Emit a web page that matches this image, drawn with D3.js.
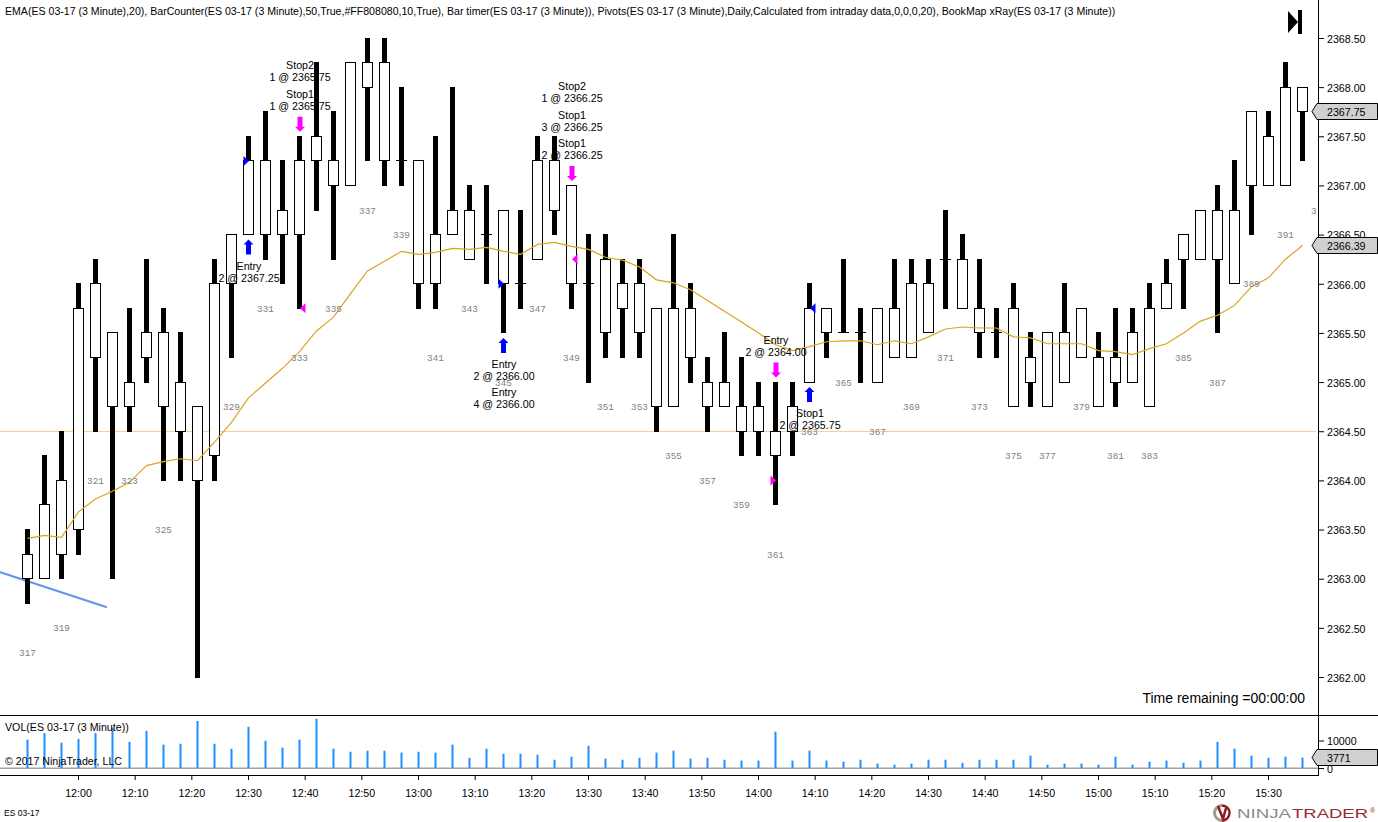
<!DOCTYPE html>
<html>
<head>
<meta charset="utf-8">
<script src="https://cdn.jsdelivr.net/npm/d3@7"></script>
<style>
  html, body { margin: 0; padding: 0; background: #fff; overflow: hidden; }
  svg { display: block; }
  text { font-family: "Liberation Sans", Arial, sans-serif; fill: #000; }
</style>
</head>
<body>
<div id="chart"></div>
<script>
// bar numbers 317..392, 3 minute bars starting at 11:51
const firstBarNumber = 317;
const bodyTop = [2363.25,2363.75,2364,2365.75,2366,2365.5,2365,2365.5,2365.5,2365,2364.75,2366,2366.5,2367.25,2367.25,2366.75,2367.25,2367.5,2367.25,2368.25,2368.25,2368.25,2367.25,2367.25,2366.5,2366.75,2366.75,2366.5,2366.75,2366,2367.25,2367.25,2367,2366,2366.25,2366,2366,2365.75,2365.75,2365.75,2365,2365,2364.75,2364.75,2364.5,2364.75,2365.75,2365.75,2365.5,2365.5,2365.75,2365.75,2366,2366,2366.25,2366.25,2365.75,2365.5,2365.75,2365.25,2365.5,2365.5,2365.75,2365.25,2365.25,2365.5,2365.75,2366,2366.5,2366.75,2366.75,2366.75,2367.75,2367.5,2368,2368];
const bodyBottom = [2363,2363,2363.25,2363.5,2365.25,2364.75,2364.75,2365.25,2364.75,2364.5,2364,2364.25,2366,2366.5,2366.5,2366.5,2366.5,2367.25,2367,2367,2368,2367.25,2367.25,2366,2366,2366.5,2366.25,2366.5,2366,2366,2366.25,2366.75,2366,2366,2365.5,2365.75,2365.5,2364.75,2364.75,2365.25,2364.75,2364.75,2364.5,2364.5,2364.25,2364.5,2365,2365.5,2365.5,2365.5,2365,2365.25,2365.25,2365.5,2366.25,2365.75,2365.5,2365.5,2364.75,2365,2364.75,2365,2365.25,2364.75,2365,2365,2364.75,2365.75,2366.25,2366.25,2366.25,2366,2367,2367,2367,2367.75];
const barHigh = [2363.5,2364.25,2364.5,2366,2366.25,2365.5,2365.75,2366.25,2365.75,2365.5,2364.75,2366.25,2366.5,2367.5,2367.75,2367.25,2367.5,2368.25,2367.75,2368.25,2368.5,2368.5,2368,2367.25,2367.5,2368,2367,2367,2366.75,2366.75,2367.5,2367.5,2367,2366.5,2366.5,2366.25,2366.25,2365.75,2366.5,2366,2365.25,2365.5,2365.25,2365,2365,2365,2366,2365.75,2366.25,2365.75,2365.75,2366.25,2366.25,2366.25,2366.75,2366.5,2366.25,2365.75,2366,2365.5,2365.5,2366,2365.75,2365.5,2365.75,2365.75,2366,2366.25,2366.5,2366.75,2367,2367.25,2367.75,2367.75,2368.25,2368];
const barLow = [2362.75,2363,2363,2363.25,2364.5,2363,2364.5,2365,2364,2364,2362,2364,2365.25,2366.5,2366.25,2366,2365.75,2366.75,2366.25,2367,2367.25,2367,2367,2365.75,2365.75,2366.5,2366.25,2366,2365.5,2365.75,2366.25,2366.5,2365.75,2365,2365.25,2365.25,2365.25,2364.5,2364.75,2365,2364.5,2364.75,2364.25,2364.25,2363.75,2364.25,2365,2365.25,2365.5,2365,2365,2365.25,2365.25,2365.5,2365.75,2365.75,2365.25,2365.25,2364.75,2364.75,2364.75,2365,2365.25,2364.75,2364.75,2365,2364.75,2365.75,2365.75,2366.25,2365.5,2366,2366.5,2367,2367,2367.25];
const emaValues = [2363.41,2363.44,2363.42,2363.68,2363.81,2363.89,2363.98,2364.15,2364.19,2364.22,2364.20,2364.39,2364.59,2364.84,2364.99,2365.14,2365.31,2365.52,2365.66,2365.90,2366.13,2366.23,2366.33,2366.30,2366.32,2366.36,2366.35,2366.37,2366.33,2366.30,2366.40,2366.42,2366.38,2366.35,2366.27,2366.24,2366.17,2366.04,2366.01,2365.94,2365.83,2365.72,2365.61,2365.50,2365.38,2365.32,2365.36,2365.41,2365.42,2365.42,2365.38,2365.42,2365.39,2365.46,2365.54,2365.56,2365.55,2365.55,2365.46,2365.45,2365.39,2365.39,2365.39,2365.32,2365.31,2365.28,2365.34,2365.39,2365.50,2365.62,2365.68,2365.78,2365.97,2366.06,2366.25,2366.39];
const volumes = [10300,12700,9200,10600,12700,14700,9500,13500,8500,8800,17100,8800,7000,15000,9900,7400,10300,17900,7000,5900,6300,6300,5600,5900,5600,8500,3700,7000,5200,5200,4800,3000,4100,8100,3400,3000,3700,5600,6300,3400,3700,3000,2700,2700,13200,2700,6300,2700,2300,3000,1600,1200,1600,3000,3000,1900,3000,3000,3000,4500,1200,1600,1600,1200,4100,1200,2300,2700,1900,2700,9500,7000,4500,3700,4100,3771];

const priceTicks = d3.range(2362, 2368.51, 0.5);
const volumeTicks = [0, 10000];
const pivotLevel = 2364.5;
const trendLine = [{ bar: 315.39, price: 2363.07 }, { bar: 321.69, price: 2362.71 }];

// the counter goes on one past the last drawn bar
const nextBarNumber = 393;
const nextBarLow = 2367.25;
const counterOffset = 0.5;

const tradeArrows = [
  { bar: 330, dir: 'up' }, { bar: 333, dir: 'down' }, { bar: 345, dir: 'up' },
  { bar: 349, dir: 'down' }, { bar: 361, dir: 'down' }, { bar: 363, dir: 'up' }
];
const fillMarkers = [
  { bar: 330, price: 2367.25, dir: 'right', color: '#0000ff' },
  { bar: 333, price: 2365.75, dir: 'left', color: '#ff00ff' },
  { bar: 345, price: 2366, dir: 'right', color: '#0000ff' },
  { bar: 349, price: 2366.25, dir: 'left', color: '#ff00ff' },
  { bar: 361, price: 2364, dir: 'right', color: '#ff00ff' },
  { bar: 363, price: 2365.75, dir: 'left', color: '#0000ff' }
];
// blocks listed nearest to the bar first
const tradeLabels = [
  { bar: 330, dir: 'up', blocks: [['Entry', '2 @ 2367.25']] },
  { bar: 333, dir: 'down', blocks: [['Stop1', '1 @ 2365.75'], ['Stop2', '1 @ 2365.75']] },
  { bar: 345, dir: 'up', blocks: [['Entry', '2 @ 2366.00'], ['Entry', '4 @ 2366.00']] },
  { bar: 349, dir: 'down', blocks: [['Stop1', '2 @ 2366.25'], ['Stop1', '3 @ 2366.25'], ['Stop2', '1 @ 2366.25']] },
  { bar: 361, dir: 'down', blocks: [['Entry', '2 @ 2364.00']] },
  { bar: 363, dir: 'up', blocks: [['Stop1', '2 @ 2365.75']] }
];
const priceMarkers = [2367.75, 2366.39];
const lastVolume = 3771;
const headerText = 'EMA(ES 03-17 (3 Minute),20), BarCounter(ES 03-17 (3 Minute),50,True,#FF808080,10,True), Bar timer(ES 03-17 (3 Minute)), Pivots(ES 03-17 (3 Minute),Daily,Calculated from intraday data,0,0,0,20), BookMap xRay(ES 03-17 (3 Minute))';

const width = 1378, height = 822;
const plotRight = 1318, panelLine = 715, axisLine = 775;

const svg = d3.select('#chart').append('svg').attr('width', width).attr('height', height);
svg.append('rect').attr('width', width).attr('height', height).attr('fill', '#fff');

const startTime = new Date(2017, 0, 31, 11, 51);
const timeOf = i => d3.timeMinute.offset(startTime, 3 * i);
const bars = bodyTop.map((top, i) => ({
  number: firstBarNumber + i, time: timeOf(i),
  top: top, bottom: bodyBottom[i], high: barHigh[i], low: barLow[i],
  ema: emaValues[i], volume: volumes[i]
}));
const barByNumber = new Map(bars.map(b => [b.number, b]));

const x = d3.scaleTime().domain([startTime, timeOf(bars.length - 1)]).range([27.5, 1302.5]);
const xBar = n => x(timeOf(n - firstBarNumber));
const y = d3.scaleLinear().domain([2362, 2368.5]).range([677, 38]);
const yVol = d3.scaleLinear().domain([0, 10000]).range([768, 740.5]);
const snap = v => Math.floor(v) + 0.5;

svg.append('defs').append('clipPath').attr('id', 'plot')
  .append('rect').attr('x', 0).attr('y', 0).attr('width', 1316).attr('height', panelLine);

const plot = svg.append('g').attr('clip-path', 'url(#plot)');

// pivot level
plot.append('line')
  .attr('x1', 0).attr('x2', 1316)
  .attr('y1', snap(y(pivotLevel))).attr('y2', snap(y(pivotLevel)))
  .attr('stroke', '#f8cf90').attr('stroke-width', 1);

// trend line
plot.append('path')
  .datum(trendLine)
  .attr('d', d3.line().x(d => xBar(d.bar)).y(d => y(d.price)))
  .attr('fill', 'none').attr('stroke', '#6495ed').attr('stroke-width', 2);

// wicks
plot.selectAll('.wick').data(bars).join('rect')
  .attr('class', 'wick')
  .attr('x', d => x(d.time) - 2.5)
  .attr('width', 5)
  .attr('y', d => Math.floor(y(d.high)))
  .attr('height', d => Math.floor(y(d.low)) - Math.floor(y(d.high)) + 1)
  .attr('fill', '#000')
  .attr('shape-rendering', 'crispEdges');

// bodies, open equal to close is a plain dash
plot.selectAll('.body').data(bars.filter(d => d.top !== d.bottom)).join('rect')
  .attr('class', 'body')
  .attr('x', d => x(d.time) - 5)
  .attr('width', 10)
  .attr('y', d => snap(y(d.top)))
  .attr('height', d => snap(y(d.bottom)) - snap(y(d.top)))
  .attr('fill', '#fff').attr('stroke', '#000').attr('stroke-width', 1)
  .attr('shape-rendering', 'crispEdges');

plot.selectAll('.doji').data(bars.filter(d => d.top === d.bottom)).join('line')
  .attr('class', 'doji')
  .attr('x1', d => x(d.time) - 5.5).attr('x2', d => x(d.time) + 5.5)
  .attr('y1', d => snap(y(d.top))).attr('y2', d => snap(y(d.top)))
  .attr('stroke', '#000').attr('stroke-width', 1)
  .attr('shape-rendering', 'crispEdges');

// EMA
plot.append('path')
  .datum(bars)
  .attr('d', d3.line().x(d => x(d.time)).y(d => y(d.ema)))
  .attr('fill', 'none').attr('stroke', '#daa520').attr('stroke-width', 1.2);

// bar counter
const counters = bars.filter(d => d.number % 2 === 1)
  .map(d => ({ number: d.number, low: d.low }))
  .concat([{ number: nextBarNumber, low: nextBarLow }]);
plot.selectAll('.counter').data(counters).join('text')
  .attr('class', 'counter')
  .attr('x', d => xBar(d.number))
  .attr('y', d => y(d.low - counterOffset) + 3.5)
  .attr('text-anchor', 'middle')
  .style('font-family', '"Liberation Mono", monospace')
  .style('font-size', '9.33px')
  .style('fill', '#808080')
  .text(d => d.number);

// trade arrows sit 5px off the bar
const arrowPath = dir => {
  const s = dir === 'up' ? 1 : -1;
  return d3.line()([[0, 0], [5, 5 * s], [2.5, 5 * s], [2.5, 15 * s], [-2.5, 15 * s], [-2.5, 5 * s], [-5, 5 * s]]) + 'Z';
};
plot.selectAll('.arrow').data(tradeArrows).join('path')
  .attr('class', 'arrow')
  .attr('transform', d => {
    const b = barByNumber.get(d.bar);
    return d.dir === 'up'
      ? `translate(${xBar(d.bar)},${y(b.low) + 5})`
      : `translate(${xBar(d.bar) + 0.5},${y(b.high) - 4.5})`;
  })
  .attr('d', d => arrowPath(d.dir))
  .attr('fill', d => d.dir === 'up' ? '#0000ff' : '#ff00ff');

// fill markers
plot.selectAll('.fill').data(fillMarkers).join('path')
  .attr('class', 'fill')
  .attr('transform', d => `translate(${xBar(d.bar) + 0.5},${y(d.price)})`)
  .attr('d', d => d.dir === 'right' ? 'M0,0L-5.5,-5L-5.5,5Z' : 'M0,0L5.5,-5L5.5,5Z')
  .attr('fill', d => d.color);

// trade labels
tradeLabels.forEach(t => {
  const b = barByNumber.get(t.bar);
  t.blocks.forEach((lines, k) => {
    const s = t.dir === 'up' ? 1 : -1;
    const base = y(t.dir === 'up' ? b.low : b.high);
    const near = base + s * (31 + 28.5 * k) + (t.dir === 'up' ? 0 : 0.6);
    const rows = t.dir === 'up' ? [near, near + 12] : [near - 12, near];
    lines.forEach((line, r) => {
      plot.append('text')
        .attr('x', xBar(t.bar) + 0.5)
        .attr('y', rows[r] + 4)
        .attr('text-anchor', 'middle')
        .style('font-size', '10.67px')
        .text(line);
    });
  });
});

// volume panel
svg.append('line')
  .attr('x1', 0).attr('x2', plotRight)
  .attr('y1', yVol(0) + 0.25).attr('y2', yVol(0) + 0.25)
  .attr('stroke', '#a0a0a0').attr('stroke-width', 1.5);
svg.selectAll('.vol').data(bars).join('rect')
  .attr('class', 'vol')
  .attr('x', d => x(d.time) - 1)
  .attr('width', 2)
  .attr('y', d => yVol(d.volume))
  .attr('height', d => yVol(0) - yVol(d.volume))
  .attr('fill', '#1e90ff');

// frame
svg.append('line').attr('x1', 0).attr('x2', width).attr('y1', panelLine + 0.5).attr('y2', panelLine + 0.5).attr('stroke', '#000');
svg.append('line').attr('x1', 0).attr('x2', plotRight).attr('y1', axisLine + 0.5).attr('y2', axisLine + 0.5).attr('stroke', '#000');
svg.append('line').attr('x1', plotRight + 0.5).attr('x2', plotRight + 0.5).attr('y1', 0).attr('y2', axisLine + 1).attr('stroke', '#000');

// axes
const yAxis = d3.axisRight(y).tickValues(priceTicks).tickFormat(d3.format('.2f')).tickSize(6).tickPadding(3).offset(0.5);
const gY = svg.append('g').attr('transform', `translate(${plotRight},0)`).call(yAxis);
const volAxis = d3.axisRight(yVol).tickValues(volumeTicks).tickFormat(d3.format('d')).tickSize(6).tickPadding(3).offset(0.5);
const gV = svg.append('g').attr('transform', `translate(${plotRight},0)`).call(volAxis);
const xAxis = d3.axisBottom(x).ticks(d3.timeMinute.every(10)).tickFormat(d3.timeFormat('%H:%M')).tickSize(5).tickPadding(9).offset(0);
const gX = svg.append('g').attr('transform', `translate(0,${axisLine})`).call(xAxis);
[gY, gV, gX].forEach(g => {
  g.select('.domain').remove();
  g.attr('font-family', null).attr('font-size', null);
  g.selectAll('text').style('font-size', '10.67px');
  g.selectAll('line').attr('stroke', '#000');
});
[gY, gV].forEach(g => g.selectAll('text').attr('dy', '0.4em'));

// last value tags
const tag = (g, cy, label) => {
  g.append('path')
    .attr('d', d3.line()([[1312, cy], [1317, cy - 8], [1377.5, cy - 8], [1377.5, cy + 8], [1317, cy + 8]]) + 'Z')
    .attr('fill', '#d0d0d0').attr('stroke', '#000').attr('stroke-width', 1);
  g.append('text').attr('x', 1327).attr('y', cy + 4).style('font-size', '10.67px').text(label);
};
const tags = svg.append('g');
priceMarkers.forEach(p => tag(tags, snap(y(p)), d3.format('.2f')(p)));
tag(tags, snap(yVol(lastVolume)), lastVolume);

// header and notes
svg.append('text').attr('x', 5).attr('y', 15).style('font-size', '10.58px').text(headerText);
svg.append('text').attr('x', 5).attr('y', 731).style('font-size', '10.67px').text('VOL(ES 03-17 (3 Minute))');
svg.append('text').attr('x', 5).attr('y', 765).style('font-size', '10.6px').text('© 2017 NinjaTrader, LLC');
svg.append('text').attr('x', 1305).attr('y', 703).attr('text-anchor', 'end').style('font-size', '14px').text('Time remaining =00:00:00');
svg.append('text').attr('x', 4).attr('y', 816).style('font-size', '8.5px').text('ES 03-17');

// jump to last bar button
svg.append('path').attr('d', 'M1288,11L1298,22L1288,33Z').attr('fill', '#000');
svg.append('rect').attr('x', 1298).attr('y', 10).attr('width', 4).attr('height', 24).attr('fill', '#000');

// logo
const logo = svg.append('g');
logo.append('path').attr('d', 'M1222,805.5A7.5,7.5 0 0 0 1222,820.5').attr('fill', 'none').attr('stroke', '#a89888').attr('stroke-width', 3);
logo.append('path').attr('d', 'M1222,805.5A7.5,7.5 0 0 1 1222,820.5').attr('fill', 'none').attr('stroke', '#8e1c20').attr('stroke-width', 2.5);
logo.append('path').attr('d', 'M1218,806L1223,819L1226,808').attr('fill', 'none').attr('stroke', '#8e1c20').attr('stroke-width', 2.5);
logo.append('text').attr('x', 1237).attr('y', 818).attr('textLength', 54).attr('lengthAdjust', 'spacingAndGlyphs').style('font-size', '13px').style('fill', '#8a8a8a').text('NINJA');
logo.append('text').attr('x', 1292).attr('y', 818).attr('textLength', 76).attr('lengthAdjust', 'spacingAndGlyphs').style('font-size', '13px').style('fill', '#9b2a30').text('TRADER');
logo.append('text').attr('x', 1370).attr('y', 813).style('font-size', '7px').style('fill', '#9b2a30').text('®');
</script>
</body>
</html>
